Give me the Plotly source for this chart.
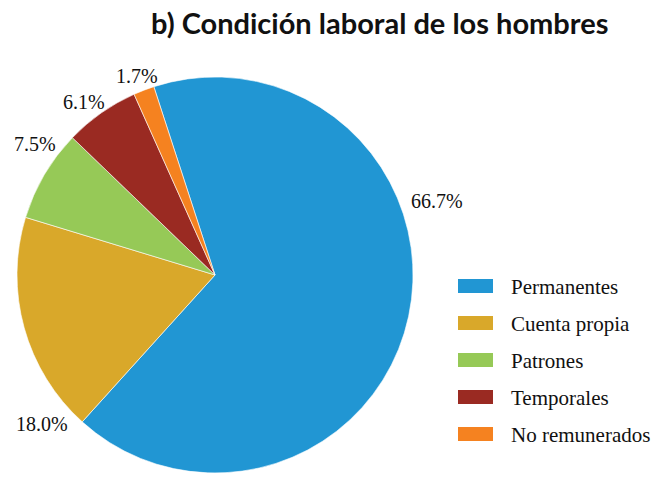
import math
import plotly.graph_objects as go

labels = ["Permanentes", "Cuenta propia", "Patrones", "Temporales", "No remunerados"]
values = [66.7, 18.0, 7.5, 6.1, 1.7]
colors = ["#2196D3", "#D9A82A", "#96C957", "#9A2A22", "#F58220"]
title_text = "b) Condición laboral de los hombres"

W, H = 657, 477
cx, cy, r = 215, 275, 198
start_angle = -18  # degrees clockwise from 12 o'clock

# label placement: angular offset from the slice middle (deg) and distance from centre (px)
label_shift = [-30.5, -25.3, 5.7, -2.2, -0.4]
label_dist = [234, 228, 223, 217, 214]

fig = go.Figure()
fig.add_trace(go.Pie(
    labels=labels, values=values, sort=False, direction="clockwise",
    rotation=start_angle, automargin=False,
    marker=dict(colors=colors, line=dict(color="white", width=0.6)),
    textposition="none", texttemplate="%{value:.1f}%",
    showlegend=False, hoverinfo="label+percent",
    domain=dict(x=[(cx - r) / W, (cx + r) / W], y=[1 - (cy + r) / H, 1 - (cy - r) / H]),
))

shapes, annots = [], []

# percentage labels
total = sum(values)
cum = 0.0
for v, sh, d in zip(values, label_shift, label_dist):
    mid = start_angle + 360 * (cum + v / 2) / total + sh
    cum += v
    a = math.radians(mid)
    px = cx + d * math.sin(a)
    py = cy - d * math.cos(a)
    annots.append(dict(text=f"{v:.1f}%", xref="paper", yref="paper", x=px / W, y=1 - py / H,
                       xanchor="center", yanchor="middle", showarrow=False,
                       font=dict(family="Liberation Serif", size=20, color="#111")))

# legend
lx0, lx1 = 458, 493
ly0, dy = 286, 37
for i, (lab, col) in enumerate(zip(labels, colors)):
    yc = ly0 + i * dy
    shapes.append(dict(type="rect", xref="paper", yref="paper",
                       x0=lx0 / W, x1=lx1 / W, y0=1 - (yc + 7) / H, y1=1 - (yc - 7) / H,
                       fillcolor=col, line=dict(width=0)))
    annots.append(dict(text=lab, xref="paper", yref="paper", x=509 / W, y=1 - (yc + 1) / H,
                       xanchor="left", yanchor="middle", showarrow=False,
                       font=dict(family="Liberation Serif", size=21, color="#111")))

annots.append(dict(text="<b>" + title_text + "</b>", xref="paper", yref="paper",
                   x=379 / W, y=1 - 22 / H, xanchor="center", yanchor="middle",
                   showarrow=False, font=dict(family="Lato", size=29, color="#111")))

fig.update_layout(width=W, height=H, margin=dict(l=0, r=0, t=0, b=0, pad=0, autoexpand=False),
                  paper_bgcolor="white", plot_bgcolor="white", showlegend=False,
                  shapes=shapes, annotations=annots)
fig.write_html("out.html", config={"displayModeBar": False},
               post_script="document.body.style.margin='0';")
